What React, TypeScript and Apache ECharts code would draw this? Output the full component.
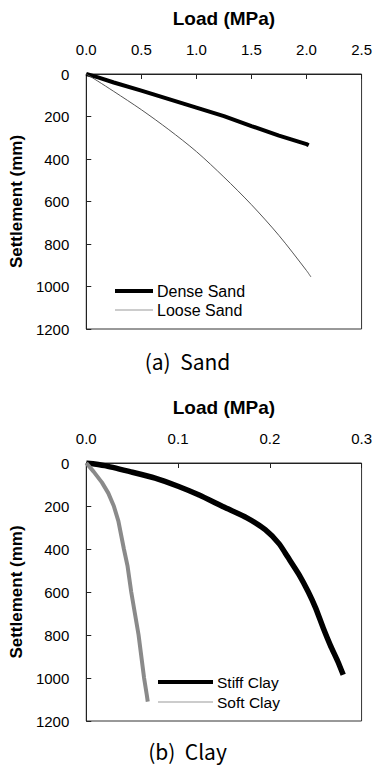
import React, { useEffect, useRef } from "react";
import * as echarts from "echarts";

// ---- Data ----
const denseSandLoad = [0, 0.1, 0.25, 0.5, 0.75, 1.0, 1.25, 1.5, 1.75, 2.0, 2.02];
const denseSandSettle = [0, 15, 40, 78, 118, 158, 198, 245, 290, 330, 335];

const looseSandLoad = [0, 0.1, 0.25, 0.5, 0.75, 1.0, 1.25, 1.5, 1.75, 2.0, 2.04];
const looseSandSettle = [0, 32, 82, 168, 262, 365, 485, 615, 760, 925, 955];

const stiffClayLoad = [0, 0.02, 0.0475, 0.075, 0.1, 0.123, 0.15, 0.175, 0.195, 0.21, 0.22, 0.232, 0.242, 0.25, 0.258, 0.266, 0.274, 0.28];
const stiffClaySettle = [0, 12, 40, 70, 108, 149, 205, 255, 310, 375, 440, 520, 600, 675, 765, 848, 922, 985];

const softClayLoad = [0, 0.008, 0.017, 0.024, 0.03, 0.035, 0.041, 0.045, 0.049, 0.053, 0.057, 0.06, 0.063, 0.066, 0.067];
const softClaySettle = [0, 40, 90, 140, 200, 270, 400, 480, 600, 700, 800, 900, 1000, 1080, 1110];

const sandLoadTicks = { min: 0, max: 2.5, interval: 0.5 };
const clayLoadTicks = { min: 0, max: 0.3, interval: 0.1 };
const settleTicks = { min: 0, max: 1200, interval: 200 };

const sandNames = ["Dense Sand", "Loose Sand"];
const clayNames = ["Stiff Clay", "Soft Clay"];
const captions = ["(a)  Sand", "(b)  Clay"];

const zip = (xs: number[], ys: number[]) => xs.map((x, i) => [x, ys[i]]);

const FONT = "'Liberation Sans', Arial, sans-serif";

function xAxisCfg(grid: number, t: { min: number; max: number; interval: number }) {
  return {
    gridIndex: grid,
    type: "value",
    position: "top",
    min: t.min,
    max: t.max,
    interval: t.interval,
    axisLine: { show: true, lineStyle: { color: "#222", width: 1 } },
    axisTick: { show: true, inside: true, length: 5, lineStyle: { color: "#222" } },
    splitLine: { show: false },
    axisLabel: {
      formatter: (v: number) => v.toFixed(1),
      color: "#000",
      fontSize: 15,
      fontFamily: FONT,
      margin: 17,
    },
    name: "Load (MPa)",
    nameLocation: "middle",
    nameGap: 46,
    nameTextStyle: { fontWeight: "bold", fontSize: 19, color: "#000", fontFamily: FONT },
  };
}

function yAxisCfg(grid: number) {
  return {
    gridIndex: grid,
    type: "value",
    inverse: true,
    min: settleTicks.min,
    max: settleTicks.max,
    interval: settleTicks.interval,
    axisLine: { show: true, lineStyle: { color: "#222", width: 1 } },
    axisTick: { show: true, inside: true, length: 5, lineStyle: { color: "#222" } },
    splitLine: { show: false },
    axisLabel: { color: "#000", fontSize: 15, fontFamily: FONT, margin: 17, formatter: (v: number) => String(v) },
    name: "Settlement (mm)",
    nameLocation: "middle",
    nameGap: 58,
    nameTextStyle: { fontWeight: "bold", fontSize: 17, color: "#000", fontFamily: FONT },
  };
}

function legendItem(x0: number, len: number, y: number, width: number, color: string, text: string, fs: number) {
  return [
    { type: "line", shape: { x1: x0, y1: y, x2: x0 + len, y2: y }, style: { stroke: color, lineWidth: width } },
    {
      type: "text",
      x: x0 + len + 4,
      y: y,
      style: { text, fontSize: fs, fill: "#000", fontFamily: FONT, verticalAlign: "middle", align: "left" },
    },
  ];
}

export default function App() {
  const ref = useRef<HTMLDivElement>(null);
  useEffect(() => {
    if (!ref.current) return;
    const chart = echarts.init(ref.current, null, { renderer: "svg" });
    const option: any = {
      animation: false,
      backgroundColor: "#fff",
      grid: [
        { left: 86, top: 74, width: 281, height: 255, show: true, borderColor: "#333", borderWidth: 1, backgroundColor: "transparent" },
        { left: 86, top: 463, width: 278, height: 258, show: true, borderColor: "#333", borderWidth: 1, backgroundColor: "transparent" },
      ],
      xAxis: [xAxisCfg(0, sandLoadTicks), xAxisCfg(1, clayLoadTicks)],
      yAxis: [yAxisCfg(0), yAxisCfg(1)],
      series: [
        {
          name: sandNames[0],
          type: "line",
          xAxisIndex: 0,
          yAxisIndex: 0,
          data: zip(denseSandLoad, denseSandSettle),
          showSymbol: false,
          symbol: "none",
          lineStyle: { color: "#000", width: 4 },
        },
        {
          name: sandNames[1],
          type: "line",
          xAxisIndex: 0,
          yAxisIndex: 0,
          data: zip(looseSandLoad, looseSandSettle),
          showSymbol: false,
          symbol: "none",
          smooth: 0.3,
          lineStyle: { color: "#555", width: 1 },
        },
        {
          name: clayNames[0],
          type: "line",
          xAxisIndex: 1,
          yAxisIndex: 1,
          data: zip(stiffClayLoad, stiffClaySettle),
          showSymbol: false,
          symbol: "none",
          smooth: 0.2,
          lineStyle: { color: "#000", width: 5.5 },
        },
        {
          name: clayNames[1],
          type: "line",
          xAxisIndex: 1,
          yAxisIndex: 1,
          data: zip(softClayLoad, softClaySettle),
          showSymbol: false,
          symbol: "none",
          lineStyle: { color: "#8a8a8a", width: 4 },
        },
      ],
      graphic: [
        ...legendItem(115, 38, 291, 4, "#000", sandNames[0], 16),
        ...legendItem(115, 38, 310, 1, "#999", sandNames[1], 16),
        ...legendItem(158, 55, 682, 4, "#000", clayNames[0], 15.5),
        ...legendItem(158, 55, 702, 1, "#999", clayNames[1], 15.5),
        {
          type: "text",
          left: "center",
          top: 350,
          style: { text: captions[0], fontSize: 21, fill: "#000", fontFamily: "'Noto Sans CJK KR', sans-serif" },
        },
        {
          type: "text",
          left: "center",
          top: 740,
          style: { text: captions[1], fontSize: 21, fill: "#000", fontFamily: "'Noto Sans CJK KR', sans-serif" },
        },
      ],
    };
    chart.setOption(option);
    return () => chart.dispose();
  }, []);
  return <div ref={ref} style={{ position: "fixed", left: 0, top: 0, width: 375, height: 765 }} />;
}
